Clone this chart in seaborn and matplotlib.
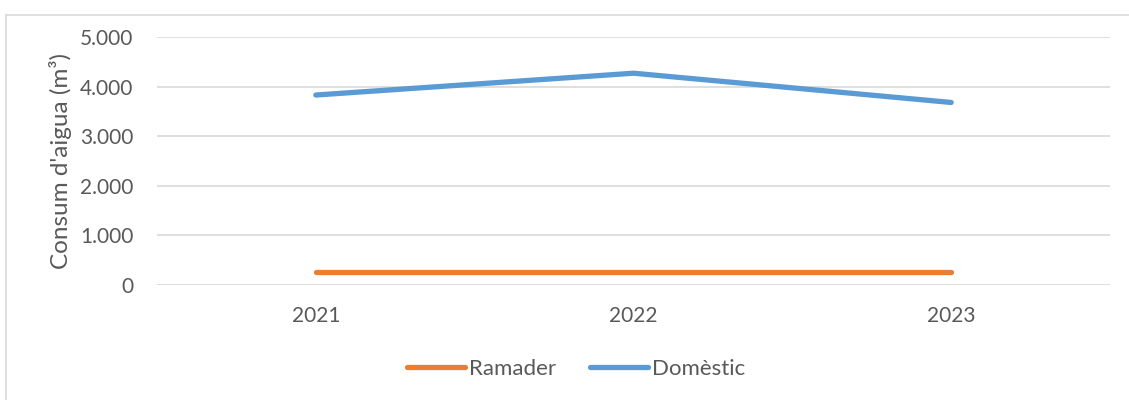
import matplotlib
matplotlib.use("Agg")
import matplotlib.pyplot as plt
import seaborn as sns
import pandas as pd
from matplotlib.patches import Rectangle
from matplotlib.ticker import FuncFormatter

years = ["2021", "2022", "2023"]
ramader = [260, 260, 260]
domestic = [3830, 4270, 3680]
series_names = ["Ramader", "Domèstic"]
colors = ["#ED7D31", "#5B9BD5"]
yticks = [0, 1000, 2000, 3000, 4000, 5000]

df = pd.DataFrame({
    "year": years * 2,
    "value": ramader + domestic,
    "serie": [series_names[0]] * 3 + [series_names[1]] * 3,
})

sns.set_style("white")
plt.rcParams["font.family"] = ["Lato", "DejaVu Sans"]
text_color = "#595959"

fig = plt.figure(figsize=(11.29, 4.0), dpi=100)
ax = fig.add_axes([157/1129, 1 - 285/400, (1110-157)/1129, (285-37)/400])

sns.lineplot(data=df, x="year", y="value", hue="serie", palette=colors,
             linewidth=3.8, ax=ax, sort=False, legend=True,
             solid_capstyle="round")

ax.set_xlim(-0.5, 2.5)
ax.set_ylim(0, 5000)
ax.set_yticks(yticks)
ax.yaxis.set_major_formatter(FuncFormatter(lambda v, p: f"{int(v):,}".replace(",", ".")))
ax.grid(axis="y", color="#D9D9D9", linewidth=1.2)
ax.set_axisbelow(True)
for s in ax.spines.values():
    s.set_visible(False)
ax.tick_params(axis="both", length=0, labelsize=15, colors=text_color)
ax.tick_params(axis="y", pad=17)
ax.tick_params(axis="x", pad=15)
ax.set_xlabel("")
ax.set_ylabel("Consum d'aigua (m³)", fontsize=17.5, color=text_color, labelpad=6)

leg = ax.legend(loc="center", bbox_to_anchor=(0.44, (285 - 369) / 248), ncol=2,
                frameon=False, fontsize=16, handlelength=2.6, columnspacing=1.5,
                handletextpad=0.2)
for t in leg.get_texts():
    t.set_color(text_color)
for h in leg.get_lines():
    h.set_linewidth(3.8)
    h.set_solid_capstyle("round")

fig.patches.append(Rectangle((6/1129, -0.1), 1.2, 1.1 - 15/400, transform=fig.transFigure,
                             fill=False, edgecolor="#D9D9D9", linewidth=1.2, figure=fig))

fig.savefig("out.png", dpi=100)
